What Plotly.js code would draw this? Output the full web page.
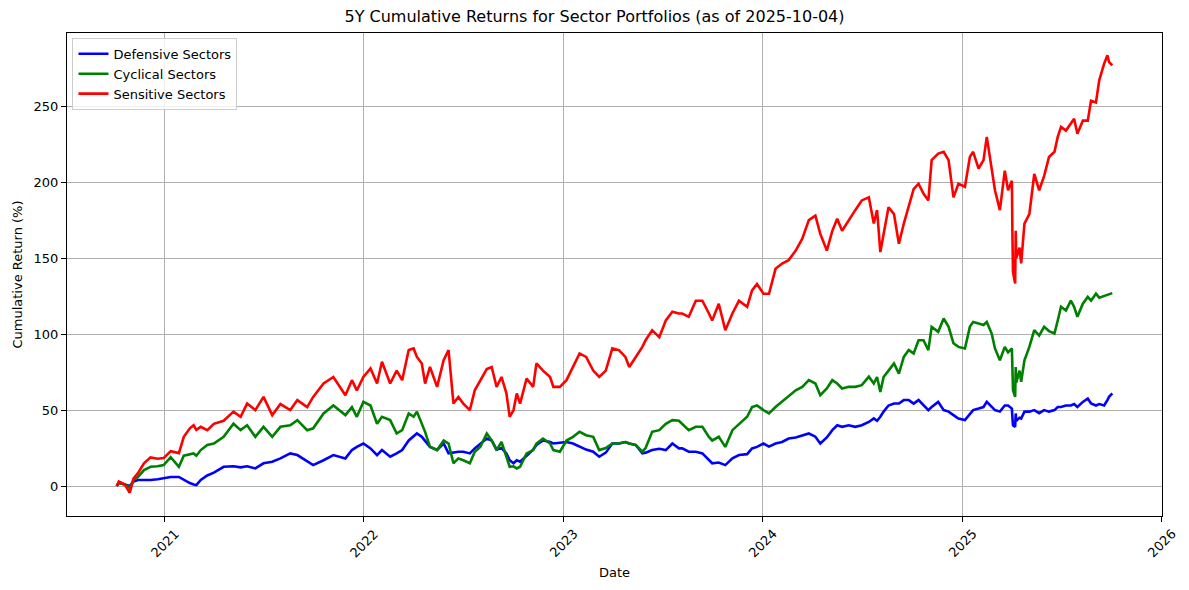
<!DOCTYPE html>
<html>
<head>
<meta charset="utf-8">
<script src="https://cdn.plot.ly/plotly-3.0.1.min.js"></script>
<style>html,body{margin:0;padding:0;background:#fff;}#chart{width:1189px;height:590px;}</style>
</head>
<body>
<div id="chart"></div>
<script>
const dates = ['2020-10-05','2020-10-09','2020-10-20','2020-10-29','2020-11-05','2020-11-13','2020-11-24','2020-12-06','2020-12-19','2020-12-30',
'2021-01-12','2021-01-27','2021-02-05','2021-02-16','2021-02-23','2021-02-28','2021-03-08','2021-03-20','2021-04-01','2021-04-19',
'2021-05-07','2021-05-20','2021-06-01','2021-06-16','2021-07-01','2021-07-17','2021-08-01','2021-08-19','2021-09-01','2021-09-19',
'2021-09-30','2021-10-19','2021-11-06','2021-11-28','2021-12-10','2021-12-19','2021-12-31','2022-01-13','2022-01-25','2022-02-03',
'2022-02-18','2022-03-02','2022-03-12','2022-03-24','2022-04-02','2022-04-08','2022-04-17','2022-04-23','2022-05-02','2022-05-15',
'2022-05-27','2022-06-05','2022-06-14','2022-06-23','2022-07-02','2022-07-14','2022-07-23','2022-08-02','2022-08-14','2022-08-23',
'2022-09-01','2022-09-10','2022-09-19','2022-09-25','2022-10-02','2022-10-08','2022-10-14','2022-10-26','2022-11-07','2022-11-13',
'2022-11-25','2022-12-08','2022-12-14','2022-12-26','2023-01-07','2023-01-19','2023-01-31','2023-02-12','2023-02-25','2023-03-08',
'2023-03-20','2023-04-01','2023-04-13','2023-04-25','2023-05-02','2023-05-14','2023-05-26','2023-06-01','2023-06-13','2023-06-26',
'2023-07-08','2023-07-20','2023-08-01','2023-08-07','2023-08-19','2023-09-01','2023-09-13','2023-09-25','2023-10-01','2023-10-13',
'2023-10-25','2023-11-07','2023-11-19','2023-12-04','2023-12-13','2023-12-22','2024-01-03','2024-01-13','2024-01-25','2024-02-06',
'2024-02-18','2024-03-02','2024-03-14','2024-03-26','2024-04-07','2024-04-16','2024-04-28','2024-05-08','2024-05-17','2024-05-26',
'2024-06-07','2024-06-19','2024-07-01','2024-07-14','2024-07-23','2024-07-29','2024-08-04','2024-08-10','2024-08-19','2024-08-29',
'2024-09-07','2024-09-16','2024-09-25','2024-10-04','2024-10-13','2024-10-22','2024-10-31','2024-11-06','2024-11-18','2024-11-28',
'2024-12-07','2024-12-16','2024-12-25','2025-01-06','2025-01-15','2025-01-21','2025-01-31','2025-02-09','2025-02-15','2025-02-24',
'2025-03-02','2025-03-11','2025-03-20','2025-03-26','2025-04-02','2025-04-03','2025-04-04','2025-04-08','2025-04-09','2025-04-10',
'2025-04-16','2025-04-19','2025-04-25','2025-05-04','2025-05-13','2025-05-22','2025-05-31','2025-06-09','2025-06-19','2025-06-25',
'2025-07-01','2025-07-10','2025-07-19','2025-07-25','2025-07-31','2025-08-10','2025-08-19','2025-08-25','2025-09-03','2025-09-09',
'2025-09-18','2025-09-24','2025-09-27','2025-10-03'];

const defensive = [0,2,1,0,3,4,4,4,4.5,5,
6,6,4,2,1,0.7,4,7,8.8,12.7,
13,12.3,13,11.6,15,16,18.2,21.5,20.4,16,
13.8,17,20.4,18.2,23.7,25.8,28,24.8,20.4,23.7,
19.3,21.5,23.7,30,32.4,34.6,32.4,30,25.8,23.7,
28,21.5,22,22.6,22.6,21.5,24.8,28,31.3,30,
24,25,21.5,17,15,17,16,20,24,27,
30,29,28,28.5,29,28,25.8,24,22.6,19.3,
22,28,28,29,28,27,21.5,22,23.7,24.5,
23.7,28,24.8,24.8,22.6,22.6,21.5,17,15,15.5,
13.8,18.2,20.4,21,24.8,25.8,28,26,28,29,
31.3,32,33.5,34.6,32.5,28,32,36.8,40,39,
40,39,40,42.2,44.5,43,45.6,49,53,54.3,
54.3,56.6,56.6,54.3,56.6,53,50,52,55.4,50,
49,46.7,44.5,43.4,47.8,50,51,52,55.4,52,
50,49,53,53,51,45,40,39,47.8,43,
45,44.5,49,49,50,48,50,49,50,52,
52,53,53,54,52,55.4,57.6,54.3,53,54,
53,56.6,58.7,61];

const cyclical = [0,2,1,-1,4,6,10.5,12.7,13,13.8,
19,12.7,20,21,21.5,20,23.7,27,28,32.4,
41,36.8,40,32.4,39,32.4,39,40,43.4,36.8,
38,47.8,53,46.7,52,45.6,55.4,53,41,45.6,
43.4,34.6,36.8,47.8,45.6,49,41,35.7,25.8,23.7,
30,28,15,18.2,17,15,22.6,25.8,34.6,30,
23.7,29,19.3,12.7,13,11.6,12.7,21.5,23.7,28,
31.3,28,23.7,22.6,30,32.4,35.7,33.5,32.4,23.7,
25,28,28,29,28,27,22.6,25,35.7,36.8,
41,43.4,43,41,36.8,39,39,32.4,30,32.4,
25.8,36.8,41,45.6,52,53,50,47.8,52,55.4,
58.7,63,65.3,69.7,67.5,59.8,64.2,69.7,67.5,64.2,
65.3,65.3,66.4,72,67.5,71.8,62,71.8,76,80.7,
74,85,89.5,87.3,96,96,89.5,104.8,101.5,110.3,
104.8,94,91.6,90.6,104.8,108,107,106,108,100.4,
90.6,82.8,91.6,88,90.6,75,63,58.7,78.4,68,
76,68.6,82.8,91.6,102.6,99,104.8,102,100.4,109,
118,115.6,122,118,111.4,120,124.5,122,126.6,124,
125,125.6,126,127];

const sensitive = [0,3,1,-4.4,5,8.5,15,18.9,18,18.4,
23,21.7,32.4,38,40,37,39,36.8,41,43,
49,45.6,54.3,50,58.7,46.7,54,50,56.6,52,
58.7,67.5,71.8,59.8,69.7,63,71.8,77.4,67.5,81.8,
67.5,76,69.7,89.5,90.6,85,80.7,67.5,78.4,65.3,
82.8,89.5,54.3,58.7,54.3,50,63,69.7,77,78.4,
65.3,71.8,61,45.6,50,61,54.3,70.8,65.3,80.7,
76,71.8,65.3,65.3,69.7,78.4,87.3,85,76,71.8,
76,90.6,89.5,85,78.4,85,91.6,96,102.6,98,
109,114.7,113.6,113.6,111.4,122,122,113.6,109,120,
102.6,113.6,122,118,128.8,133,126.6,126.6,143,146.5,
148.7,155,162.8,175,178,166,155,168,176,168,
175,181.6,188,190,172.8,181.6,154,166,183.5,179,
159.5,172.8,183.5,195.5,199,192.5,188,214.5,218.8,220,
214.5,190,199,197,216.6,220,209,214.5,229.8,210,
194.7,181.6,207.6,194.7,201,165,141,133.3,168,150,
157,146.5,172.8,179,205.4,194.7,204,216.6,220,229.8,
236.4,234,238.6,241.8,231.9,240.5,240.5,253.6,252.5,267,
278,283.5,279,277];

const seriesNames = ['Defensive Sectors','Cyclical Sectors','Sensitive Sectors'];
const seriesColors = ['#0000ff','#008000','#ff0000'];
const seriesData = [defensive, cyclical, sensitive];

const traces = seriesData.map((vals, i) => ({
  x: dates, y: vals, type: 'scatter', mode: 'lines', name: seriesNames[i],
  line: {color: seriesColors[i], width: 2.6}
}));

const yTicks = [0,50,100,150,200,250];
const xTicks = ['2021-01-01','2022-01-01','2023-01-01','2024-01-01','2025-01-01','2026-01-01'];
const xTickText = ['2021','2022','2023','2024','2025','2026'];

// rotated year labels centred under their ticks (matplotlib style)
const tickLabelAnnotations = xTicks.map((d, i) => ({
  x: d, xref: 'x', y: 0, yref: 'paper', text: xTickText[i],
  showarrow: false, textangle: -45, xanchor: 'center', yanchor: 'middle',
  yshift: -27, font: {size: 13, color: '#000'}
}));

const layout = {
  width: 1189, height: 590,
  paper_bgcolor: '#ffffff', plot_bgcolor: '#ffffff',
  font: {family: 'DejaVu Sans, sans-serif', size: 13, color: '#000'},
  margin: {l: 67, r: 27, t: 33, b: 74},
  title: {text: '5Y Cumulative Returns for Sector Portfolios (as of 2025-10-04)', x: 0.5, xanchor: 'center', y: 0.972, yanchor: 'middle', font: {size: 16, color: '#000'}},
  showlegend: true,
  legend: {x: 0.005, y: 0.99, xanchor: 'left', yanchor: 'top', bgcolor: 'rgba(255,255,255,0.8)', bordercolor: '#cccccc', borderwidth: 1, font: {size: 13}, tracegroupgap: 0},
  annotations: tickLabelAnnotations,
  xaxis: {
    type: 'date', range: ['2020-07-06','2026-01-02'],
    tickvals: xTicks, ticktext: xTickText, showticklabels: false,
    showgrid: true, gridcolor: '#b0b0b0', gridwidth: 1,
    showline: true, linecolor: '#000', linewidth: 1, mirror: true,
    ticks: 'outside', ticklen: 5, tickcolor: '#000', zeroline: false,
    title: {text: 'Date', font: {size: 13}, standoff: 46}
  },
  yaxis: {
    range: [-19.7, 298.2], tickvals: yTicks,
    showgrid: true, gridcolor: '#b0b0b0', gridwidth: 1,
    showline: true, linecolor: '#000', linewidth: 1, mirror: true,
    ticks: 'outside', ticklen: 5, tickcolor: '#000', zeroline: false,
    title: {text: 'Cumulative Return (%)', font: {size: 13}, standoff: 8}
  }
};

Plotly.newPlot('chart', traces, layout, {displayModeBar: false, staticPlot: true});
</script>
</body>
</html>
